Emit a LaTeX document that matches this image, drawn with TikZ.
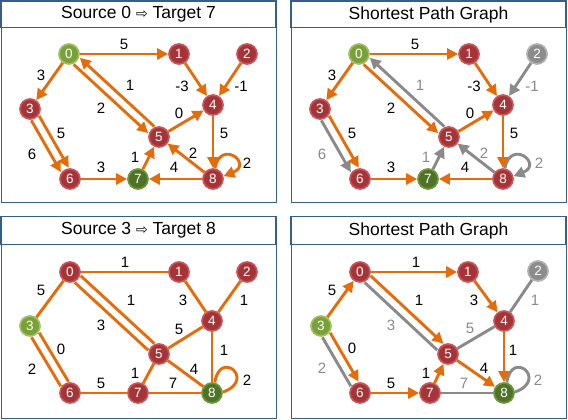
\documentclass[tikz,border=0pt]{standalone}
\usepackage{fontspec}
\setmainfont{Liberation Sans}
\newfontfamily\symfont{DejaVu Sans}
\usetikzlibrary{arrows.meta,calc}
\definecolor{eorange}{RGB}{228,108,10}
\definecolor{egray}{RGB}{138,138,138}
\definecolor{frameblue}{RGB}{56,93,138}
\definecolor{redfill}{RGB}{165,52,56}
\definecolor{redline}{RGB}{200,85,88}
\definecolor{lgfill}{RGB}{122,160,58}
\definecolor{lgline}{RGB}{160,192,100}
\definecolor{dgfill}{RGB}{79,115,38}
\definecolor{dgline}{RGB}{112,150,62}
\definecolor{gyfill}{RGB}{140,140,140}
\definecolor{gyline}{RGB}{178,178,178}
\tikzset{
 vtx/.style={circle, minimum size=20pt, inner sep=0pt, line width=1.7pt, font=\fontsize{13.5}{13.5}\selectfont, text=white},
 rv/.style={vtx, fill=redfill, draw=redline},
 lg/.style={vtx, fill=lgfill, draw=lgline},
 dg/.style={vtx, fill=dgfill, draw=dgline},
 gv/.style={vtx, fill=gyfill, draw=gyline},
 oe/.style={draw=eorange, line width=2.9pt},
 ge/.style={draw=egray, line width=2.9pt},
 tip/.style={-{Triangle[length=11pt,width=11pt]}},
 par/.style={shorten <=10.5pt, shorten >=10.5pt},
 lab/.style={font=\fontsize{15}{15}\selectfont, inner sep=0pt},
 glab/.style={lab, text=egray},
 titlebox/.style={draw=frameblue, line width=1.5pt, fill=white},
 panelbox/.style={draw=frameblue, line width=1pt},
 ttl/.style={font=\fontsize{17.5}{17.5}\selectfont, inner sep=0pt}
}
\begin{document}
\begin{tikzpicture}[x=1pt,y=-1pt]
\useasboundingbox (0,0) rectangle (568,420);
% ---------- frames ----------
\draw[panelbox] (1.5,1) rectangle (276,202);
\draw[titlebox] (1,1) rectangle (276,27.5);
\node[ttl] (t1) at (138.5,14.5) {Source 0 {\symfont\fontsize{14}{14}\selectfont ⇨} Target 7};
\draw[panelbox] (291,1) rectangle (566,202);
\draw[titlebox] (291,1) rectangle (566,27.5);
\node[ttl] (t2) at (428.5,14.5) {Shortest Path Graph};
\draw[panelbox] (1.5,216.5) rectangle (276,418);
\draw[titlebox] (1,216.5) rectangle (276,244.5);
\node[ttl] (t3) at (138.5,230.5) {Source 3 {\symfont\fontsize{14}{14}\selectfont ⇨} Target 8};
\draw[panelbox] (291,216.5) rectangle (566,418);
\draw[titlebox] (291,216.5) rectangle (566,244.5);
\node[ttl] (t4) at (428.5,230.5) {Shortest Path Graph};

% ---------- panel A: top left ----------
\node[lg] (a0) at (69,54) {0};
\node[rv] (a1) at (179,54) {1};
\node[rv] (a2) at (247,54) {2};
\node[rv] (a3) at (30,109) {3};
\node[rv] (a4) at (213,105) {4};
\node[rv] (a5) at (159,137) {5};
\node[rv] (a6) at (70,179) {6};
\node[dg] (a7) at (138,179) {7};
\node[rv] (a8) at (213,179) {8};
\draw[oe,tip] (a0) -- (a1);
\draw[oe,tip] (a0) -- (a3);
\draw[oe,tip,par] ($(a0.center)!4.5pt!-90:(a5.center)$) -- ($(a5.center)!4.5pt!90:(a0.center)$);
\draw[oe,tip,par] ($(a5.center)!4.5pt!-90:(a0.center)$) -- ($(a0.center)!4.5pt!90:(a5.center)$);
\draw[oe,tip] (a1) -- (a4);
\draw[oe,tip] (a2) -- (a4);
\draw[oe,tip] (a5) -- (a4);
\draw[oe,tip] (a4) -- (a8);
\draw[oe,tip,par] ($(a3.center)!4.5pt!90:(a6.center)$) -- ($(a6.center)!4.5pt!-90:(a3.center)$);
\draw[oe,tip,par] ($(a3.center)!4.5pt!-90:(a6.center)$) -- ($(a6.center)!4.5pt!90:(a3.center)$);
\draw[oe,tip] (a6) -- (a7);
\draw[oe,tip] (a7) -- (a5);
\draw[oe,tip] (a8) -- (a7);
\draw[oe,tip] (a8) -- (a5);
\draw[oe,tip] (a8.80) .. controls +(6,-30) and +(30,-12) .. (a8.15);
\node[lab] (la1) at (124,44) {5};
\node[lab] (la2) at (41,75) {3};
\node[lab] (la3) at (130,85) {1};
\node[lab] (la4) at (101,108) {2};
\node[lab] (la5) at (182,86) {-3};
\node[lab] (la6) at (241,86) {-1};
\node[lab] (la7) at (179,113) {0};
\node[lab] (la8) at (224,133) {5};
\node[lab] (la9) at (61,133) {5};
\node[lab] (la10) at (32,154) {6};
\node[lab] (la11) at (101,167) {3};
\node[lab] (la12) at (135,157) {1};
\node[lab] (la13) at (193,153) {2};
\node[lab] (la14) at (174,167) {4};
\node[lab] (la15) at (247,163) {2};

% ---------- panel B: top right ----------
\begin{scope}[shift={(290,0)}]
\node[lg] (b0) at (69,54) {0};
\node[rv] (b1) at (179,54) {1};
\node[gv] (b2) at (247,54) {2};
\node[rv] (b3) at (30,109) {3};
\node[rv] (b4) at (213,105) {4};
\node[rv] (b5) at (159,137) {5};
\node[rv] (b6) at (70,179) {6};
\node[dg] (b7) at (138,179) {7};
\node[rv] (b8) at (213,179) {8};
\draw[ge,tip,par] ($(b5.center)!4.5pt!-90:(b0.center)$) -- ($(b0.center)!4.5pt!90:(b5.center)$);
\draw[ge,tip] (b2) -- (b4);
\draw[ge,tip,par] ($(b3.center)!4.5pt!-90:(b6.center)$) -- ($(b6.center)!4.5pt!90:(b3.center)$);
\draw[ge,tip] (b7) -- (b5);
\draw[ge,tip] (b8) -- (b5);
\draw[ge,tip] (b8.80) .. controls +(6,-30) and +(30,-12) .. (b8.15);
\draw[oe,tip] (b0) -- (b1);
\draw[oe,tip] (b0) -- (b3);
\draw[oe,tip,par] ($(b0.center)!4.5pt!-90:(b5.center)$) -- ($(b5.center)!4.5pt!90:(b0.center)$);
\draw[oe,tip] (b1) -- (b4);
\draw[oe,tip] (b5) -- (b4);
\draw[oe,tip] (b4) -- (b8);
\draw[oe,tip,par] ($(b3.center)!4.5pt!90:(b6.center)$) -- ($(b6.center)!4.5pt!-90:(b3.center)$);
\draw[oe,tip] (b6) -- (b7);
\draw[oe,tip] (b8) -- (b7);
\node[lab] (lb1) at (125,44) {5};
\node[lab] (lb2) at (42,75) {3};
\node[glab] (lb3) at (130,85) {1};
\node[lab] (lb4) at (101,108) {2};
\node[lab] (lb5) at (184,86) {-3};
\node[glab] (lb6) at (242,86) {-1};
\node[lab] (lb7) at (180,113) {0};
\node[lab] (lb8) at (224,133) {5};
\node[lab] (lb9) at (62,133) {5};
\node[glab] (lb10) at (32,154) {6};
\node[lab] (lb11) at (101,167) {3};
\node[glab] (lb12) at (136,157) {1};
\node[glab] (lb13) at (194,153) {2};
\node[lab] (lb14) at (175,167) {4};
\node[glab] (lb15) at (249,163) {2};
\end{scope}

% ---------- panel C: bottom left ----------
\node[rv] (c0) at (70,272) {0};
\node[rv] (c1) at (179,272) {1};
\node[rv] (c2) at (247,272) {2};
\node[lg] (c3) at (30,326) {3};
\node[rv] (c4) at (212,321) {4};
\node[rv] (c5) at (159,354) {5};
\node[rv] (c6) at (70,393) {6};
\node[rv] (c7) at (138,393) {7};
\node[dg] (c8) at (212,393) {8};
\draw[oe] (c0) -- (c1);
\draw[oe] (c0) -- (c3);
\draw[oe,par] ($(c0.center)!4.5pt!90:(c5.center)$) -- ($(c5.center)!4.5pt!-90:(c0.center)$);
\draw[oe,par] ($(c0.center)!4.5pt!-90:(c5.center)$) -- ($(c5.center)!4.5pt!90:(c0.center)$);
\draw[oe] (c1) -- (c4);
\draw[oe] (c2) -- (c4);
\draw[oe] (c5) -- (c4);
\draw[oe] (c4) -- (c8);
\draw[oe,par] ($(c3.center)!4.5pt!90:(c6.center)$) -- ($(c6.center)!4.5pt!-90:(c3.center)$);
\draw[oe,par] ($(c3.center)!4.5pt!-90:(c6.center)$) -- ($(c6.center)!4.5pt!90:(c3.center)$);
\draw[oe] (c6) -- (c7);
\draw[oe] (c7) -- (c5);
\draw[oe] (c5) -- (c8);
\draw[oe] (c7) -- (c8);
\draw[oe] (c8.75) .. controls +(5,-34) and +(34,-12) .. (c8.5);
\node[lab] (lc1) at (125,262) {1};
\node[lab] (lc2) at (41,290) {5};
\node[lab] (lc3) at (131,300) {1};
\node[lab] (lc4) at (101,325) {3};
\node[lab] (lc5) at (183,300) {3};
\node[lab] (lc6) at (244,300) {1};
\node[lab] (lc7) at (179,329) {5};
\node[lab] (lc8) at (224,350) {1};
\node[lab] (lc9) at (61,349) {0};
\node[lab] (lc10) at (32,369) {2};
\node[lab] (lc11) at (101,383) {5};
\node[lab] (lc12) at (135,373) {1};
\node[lab] (lc13) at (194,369) {4};
\node[lab] (lc14) at (173,383) {7};
\node[lab] (lc15) at (247,380) {2};

% ---------- panel D: bottom right ----------
\begin{scope}[shift={(290,0)}]
\node[rv] (d0) at (70,272) {0};
\node[rv] (d1) at (178,272) {1};
\node[gv] (d2) at (248,271) {2};
\node[lg] (d3) at (31,326) {3};
\node[rv] (d4) at (214,321) {4};
\node[rv] (d5) at (158,354) {5};
\node[rv] (d6) at (70,393) {6};
\node[rv] (d7) at (140,393) {7};
\node[dg] (d8) at (214,393) {8};
\draw[ge,par] ($(d0.center)!4.5pt!-90:(d5.center)$) -- ($(d5.center)!4.5pt!90:(d0.center)$);
\draw[ge] (d2) -- (d4);
\draw[ge] (d5) -- (d4);
\draw[ge,par] ($(d3.center)!4.5pt!-90:(d6.center)$) -- ($(d6.center)!4.5pt!90:(d3.center)$);
\draw[ge] (d7) -- (d8);
\draw[ge] (d8.75) .. controls +(5,-34) and +(34,-12) .. (d8.5);
\draw[oe,tip] (d3) -- (d0);
\draw[oe,tip] (d0) -- (d1);
\draw[oe,tip,par] ($(d0.center)!4.5pt!90:(d5.center)$) -- ($(d5.center)!4.5pt!-90:(d0.center)$);
\draw[oe,tip] (d1) -- (d4);
\draw[oe,tip] (d4) -- (d8);
\draw[oe,tip,par] ($(d3.center)!4.5pt!90:(d6.center)$) -- ($(d6.center)!4.5pt!-90:(d3.center)$);
\draw[oe,tip] (d6) -- (d7);
\draw[oe,tip] (d7) -- (d5);
\draw[oe,tip] (d5) -- (d8);
\node[lab] (ld1) at (126,262) {1};
\node[lab] (ld2) at (42,290) {5};
\node[lab] (ld3) at (129,300) {1};
\node[glab] (ld4) at (101,325) {3};
\node[lab] (ld5) at (184,300) {3};
\node[glab] (ld6) at (245,300) {1};
\node[glab] (ld7) at (180,328) {5};
\node[lab] (ld8) at (223,350) {1};
\node[lab] (ld9) at (62,348) {0};
\node[glab] (ld10) at (32,368) {2};
\node[lab] (ld11) at (101,383) {5};
\node[lab] (ld12) at (136,373) {1};
\node[lab] (ld13) at (194,368) {4};
\node[glab] (ld14) at (174,383) {7};
\node[glab] (ld15) at (248,380) {2};
\end{scope}
\end{tikzpicture}
\end{document}
